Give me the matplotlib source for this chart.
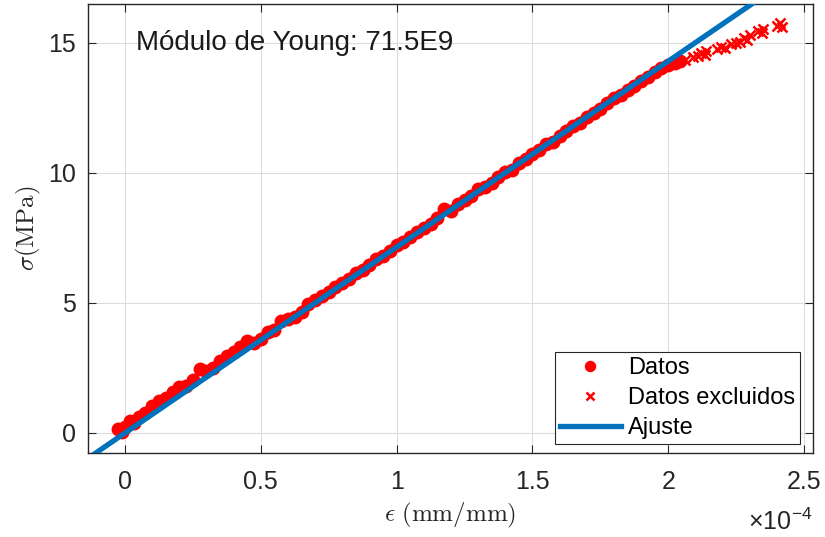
import matplotlib
matplotlib.use("Agg")
import matplotlib.pyplot as plt
import numpy as np
from matplotlib.ticker import FuncFormatter

# strain in units of 1e-4 mm/mm, stress in MPa
datos_strain = [-0.025, -0.01, 0.0, 0.02, 0.035, 0.05, 0.075, 0.10, 0.125, 0.15,
                0.175, 0.20, 0.225, 0.25, 0.275, 0.30, 0.325, 0.35, 0.375, 0.40,
                0.425, 0.45, 0.475, 0.50, 0.525, 0.55, 0.575, 0.60, 0.625, 0.65,
                0.675, 0.70, 0.725, 0.75, 0.775, 0.80, 0.825, 0.85, 0.875, 0.90,
                0.925, 0.95, 0.975, 1.00, 1.025, 1.05, 1.075, 1.10, 1.125, 1.15,
                1.175, 1.20, 1.225, 1.25, 1.275, 1.30, 1.325, 1.35, 1.375, 1.40,
                1.425, 1.45, 1.475, 1.50, 1.525, 1.55, 1.575, 1.60, 1.625, 1.65,
                1.675, 1.70, 1.725, 1.75, 1.775, 1.80, 1.825, 1.85, 1.875, 1.90,
                1.925, 1.95, 1.975, 2.00, 2.025, 2.045]
datos_stress = [0.15, 0.05, 0.22, 0.45, 0.38, 0.62, 0.78, 1.05, 1.22, 1.35,
                1.58, 1.75, 1.82, 2.05, 2.45, 2.38, 2.50, 2.78, 2.95, 3.10,
                3.30, 3.52, 3.45, 3.62, 3.90, 3.95, 4.30, 4.40, 4.45, 4.65,
                4.95, 5.12, 5.25, 5.42, 5.60, 5.78, 5.92, 6.15, 6.25, 6.45,
                6.68, 6.82, 7.00, 7.22, 7.35, 7.55, 7.72, 7.90, 8.02, 8.25,
                8.62, 8.55, 8.80, 8.95, 9.12, 9.38, 9.45, 9.62, 9.85, 10.05,
                10.12, 10.38, 10.52, 10.72, 10.88, 11.10, 11.20, 11.42, 11.60, 11.82,
                11.92, 12.15, 12.32, 12.45, 12.70, 12.90, 13.00, 13.18, 13.35, 13.55,
                13.68, 13.90, 14.02, 14.15, 14.22, 14.30]

excl_strain = [2.06, 2.09, 2.11, 2.12, 2.135, 2.14, 2.18, 2.195, 2.21, 2.23,
               2.25, 2.265, 2.28, 2.29, 2.30, 2.33, 2.345, 2.35, 2.40, 2.41, 2.42]
excl_stress = [14.35, 14.45, 14.50, 14.62, 14.55, 14.68, 14.78, 14.85, 14.82, 14.95,
               14.98, 15.05, 15.18, 15.10, 15.32, 15.45, 15.40, 15.55, 15.65, 15.75, 15.62]

young_modulus = 71.5e9            # Pa
fit_strain = [-0.11, 2.31]        # range of the fitted line (1e-4)
x_ticks = [0, 0.5, 1, 1.5, 2, 2.5]
y_ticks = [0, 5, 10, 15]

scale = 1e-4
e_mpa = young_modulus / 1e6
fit_x = np.array(fit_strain) * scale
fit_y = e_mpa * fit_x

plt.rcParams["font.family"] = ["Liberation Sans", "DejaVu Sans"]
plt.rcParams["mathtext.fontset"] = "cm"

fig = plt.figure(figsize=(8.25, 5.37), dpi=100)
ax = fig.add_axes([0.1067, 0.1564, 0.8788, 0.8362])

ax.plot(np.array(datos_strain) * scale, datos_stress, "o", color="#ff0000",
        markersize=9, label="Datos", zorder=3)
ax.plot(np.array(excl_strain) * scale, excl_stress, "x", color="#ff0000",
        markersize=7, markeredgewidth=1.8, label="Datos excluidos", zorder=3)
ax.plot(fit_x, fit_y, "-", color="#0072BD", linewidth=3.8, label="Ajuste", zorder=4)

ax.set_xlim(-0.136e-4, 2.533e-4)
ax.set_ylim(-0.77, 16.5)
ax.set_xticks(np.array(x_ticks) * scale)
ax.set_yticks(y_ticks)
# MATLAB-style: plain tick labels, exponent shown separately below the axis
ax.xaxis.set_major_formatter(FuncFormatter(lambda v, pos: "%g" % round(v / scale, 6)))
ax.text(1.0, -0.125, "×10$^{\\mathdefault{-4}}$", transform=ax.transAxes,
        ha="right", va="top", fontsize=18, color="#262626")

ax.grid(True, color="#dcdcdc", linewidth=0.8)
ax.set_axisbelow(True)
ax.tick_params(direction="in", top=True, right=True, labelsize=18,
               colors="#262626", length=6, width=0.8)
ax.tick_params(axis="x", pad=12)
ax.tick_params(axis="y", pad=9)
for sp in ax.spines.values():
    sp.set_color("#262626")
    sp.set_linewidth(1.0)

ax.set_xlabel(r"$\epsilon\ (\mathrm{mm/mm})$", fontsize=18, color="#262626", labelpad=5)
ax.set_ylabel(r"$\sigma (\mathrm{MPa})$", fontsize=18, color="#262626", labelpad=3)

ax.text(0.04e-4, 15.0, "Módulo de Young: 71.5E9", fontsize=20, color="#1a1a1a",
        va="center", ha="left")

leg = ax.legend(loc="lower right", fontsize=17, frameon=True, fancybox=False,
                edgecolor="#262626", framealpha=1, handlelength=2.6,
                borderpad=0.2, labelspacing=0.35, handletextpad=0.3,
                borderaxespad=0, bbox_to_anchor=(0.982, 0.02), markerscale=0.8)
leg.get_frame().set_linewidth(0.8)

fig.savefig("out.png", dpi=100)
